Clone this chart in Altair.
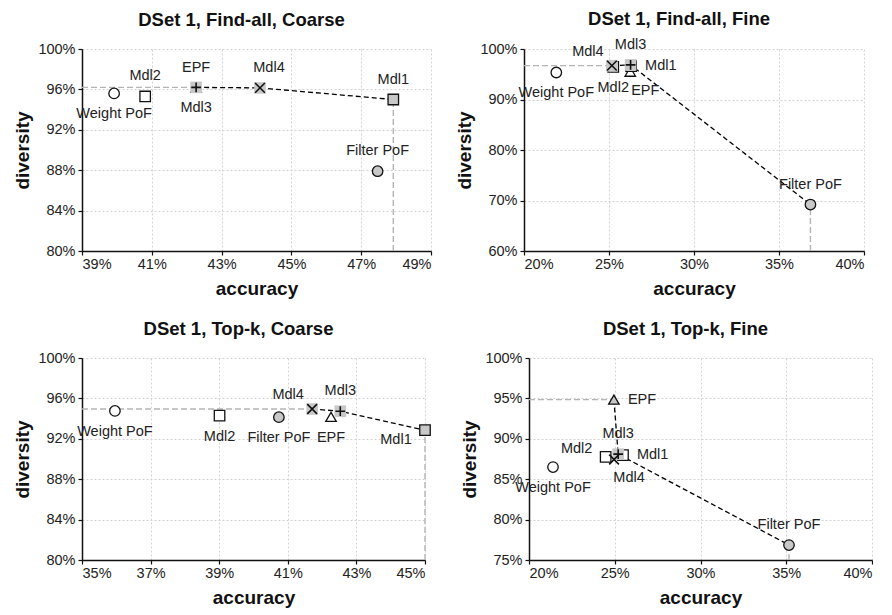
import altair as alt
import pandas as pd

METHODS = ["Weight PoF", "Filter PoF", "EPF", "Mdl1", "Mdl2", "Mdl3", "Mdl4"]

TITLES = [
    "DSet 1, Find-all, Coarse",
    "DSet 1, Find-all, Fine",
    "DSet 1, Top-k, Coarse",
    "DSet 1, Top-k, Fine",
]

# Panel 1: Find-all, Coarse
P1_ACC = [39.92, 47.47, 42.27, 47.92, 40.81, 42.27, 44.10]
P1_DIV = [95.60, 87.90, 96.15, 95.00, 95.30, 96.20, 96.15]
P1_FRONT = ["Mdl3", "Mdl4", "Mdl1"]
P1_LABEL = ["below", "above", "above", "above", "above", "below", "aboveright"]
P1_XTICKS = [39, 41, 43, 45, 47, 49]
P1_YTICKS = [80, 84, 88, 92, 96, 100]

# Panel 2: Find-all, Fine
P2_ACC = [21.90, 36.85, 26.25, 26.30, 25.25, 26.27, 25.17]
P2_DIV = [95.35, 69.20, 95.50, 96.60, 96.45, 96.85, 96.70]
P2_FRONT = ["Mdl4", "Mdl3", "Filter PoF"]
P2_LABEL = ["below", "above", "belowright", "right", "below", "above", "aboveleft"]
P2_XTICKS = [20, 25, 30, 35, 40]
P2_YTICKS = [60, 70, 80, 90, 100]

# Panel 3: Top-k, Coarse
P3_ACC = [35.96, 40.74, 42.26, 45.00, 39.01, 42.53, 41.71]
P3_DIV = [94.76, 94.14, 94.17, 92.85, 94.30, 94.73, 94.95]
P3_FRONT = ["Mdl4", "Mdl3", "Mdl1"]
P3_LABEL = ["below", "below", "below", "belowleft", "below", "above", "aboveleft"]
P3_XTICKS = [35, 37, 39, 41, 43, 45]
P3_YTICKS = [80, 84, 88, 92, 96, 100]

# Panel 4: Top-k, Fine
P4_ACC = [21.40, 35.16, 24.95, 25.48, 24.47, 25.20, 24.96]
P4_DIV = [86.50, 76.85, 94.85, 87.97, 87.77, 88.10, 87.44]
P4_FRONT = ["EPF", "Mdl3", "Filter PoF"]
P4_LABEL = ["below", "above", "right", "right", "upleft", "above", "belowright"]
P4_XTICKS = [20, 25, 30, 35, 40]
P4_YTICKS = [75, 80, 85, 90, 95, 100]

PLUS = "M-1,0H1M0,-1V1"
XMARK = "M-1,-1L1,1M-1,1L1,-1"
SHAPES = ["circle", "circle", "triangle-up", "square", "square", PLUS, XMARK]
STROKE_ONLY = ["Mdl3", "Mdl4"]

PLACEMENT = {
    "above": (0, -20, "center"),
    "below": (0, 21, "center"),
    "aboveright": (9, -20, "center"),
    "aboveleft": (-24, -14, "center"),
    "upleft": (-29, -8, "center"),
    "belowleft": (-29, 10, "center"),
    "belowright": (15, 19, "center"),
    "right": (14, 0, "left"),
}

FONT = "Liberation Sans"
H = 202


def panel(title, acc, div, front, labels, xt, yt, width, title_offset):
    df = pd.DataFrame({"method": METHODS, "acc": acc, "div": div, "lab": labels})
    df["tone"] = ["gray" if (m == "Filter PoF" or m in front) else "white" for m in METHODS]
    fr = df.set_index("method").loc[front].reset_index()
    fr["order"] = list(range(len(fr)))
    hl = fr[fr["method"].isin(STROKE_ONLY)]
    filled = df[~df["method"].isin(STROKE_ONLY)]
    stroked = df[df["method"].isin(STROKE_ONLY)]

    xs = alt.Scale(domain=[xt[0], xt[-1]], nice=False, zero=False)
    ys = alt.Scale(domain=[yt[0], yt[-1]], nice=False, zero=False)
    xax = alt.Axis(values=xt, labelExpr="datum.value + '%'", title="accuracy",
                   labelPadding=2, titlePadding=9)
    yax = alt.Axis(values=yt, labelExpr="datum.value + '%'", title="diversity",
                   labelPadding=3, titlePadding=5)

    def X(f="acc"):
        return alt.X(f"{f}:Q", scale=xs, axis=xax)

    def Y(f="div"):
        return alt.Y(f"{f}:Q", scale=ys, axis=yax)

    first = fr.iloc[0]
    last = fr.iloc[-1]
    hdf = pd.DataFrame({"a0": [xt[0]], "a1": [first["acc"]], "div": [first["div"]]})
    vdf = pd.DataFrame({"acc": [last["acc"]], "d0": [yt[0]], "div": [last["div"]]})

    shape = alt.Shape("method:N", scale=alt.Scale(domain=METHODS, range=SHAPES), legend=None)

    hrule = alt.Chart(hdf).mark_rule(color="#b5b5b5", strokeDash=[6, 3], strokeWidth=1.4).encode(
        x=X("a0"), x2="a1:Q", y=Y())
    vrule = alt.Chart(vdf).mark_rule(color="#b5b5b5", strokeDash=[6, 3], strokeWidth=1.4).encode(
        x=X(), y=Y("d0"), y2="div:Q")
    line = alt.Chart(fr).mark_line(color="black", strokeDash=[5, 3], strokeWidth=1.3).encode(
        x=X(), y=Y(), order="order:Q")
    pts = alt.Chart(filled).mark_point(filled=True, stroke="#111", strokeWidth=1.3, opacity=1,
                                       size=110).encode(
        x=X(), y=Y(), shape=shape,
        fill=alt.Fill("tone:N", scale=alt.Scale(domain=["gray", "white"], range=["#c8c8c8", "white"]),
                      legend=None))
    hlt = alt.Chart(hl).mark_square(color="#c8c8c8", size=135, opacity=1).encode(x=X(), y=Y())
    strk = alt.Chart(stroked).mark_point(filled=False, color="#111", strokeWidth=1.6, opacity=1,
                                         size=95).encode(x=X(), y=Y(), shape=shape)
    layers = [hrule, vrule, line, pts, hlt, strk]
    for code in sorted(set(labels)):
        dx, dy, align = PLACEMENT[code]
        sub = df[df["lab"] == code]
        layers.append(
            alt.Chart(sub).mark_text(dx=dx, dy=dy, align=align, baseline="middle", font=FONT,
                                     fontSize=14.5, color="#222").encode(x=X(), y=Y(), text="method:N"))
    return alt.layer(*layers).properties(
        width=width, height=H,
        title=alt.TitleParams(title, frame="group", dx=-15, offset=title_offset))


p1 = panel(TITLES[0], P1_ACC, P1_DIV, P1_FRONT, P1_LABEL, P1_XTICKS, P1_YTICKS, 349, 12)
p2 = panel(TITLES[1], P2_ACC, P2_DIV, P2_FRONT, P2_LABEL, P2_XTICKS, P2_YTICKS, 340, 8)
p3 = panel(TITLES[2], P3_ACC, P3_DIV, P3_FRONT, P3_LABEL, P3_XTICKS, P3_YTICKS, 343, 12)
p4 = panel(TITLES[3], P4_ACC, P4_DIV, P4_FRONT, P4_LABEL, P4_XTICKS, P4_YTICKS, 343, 12)

chart = alt.vconcat(
    alt.hconcat(p1, p2, spacing=23),
    alt.hconcat(p3, p4, spacing=27),
    spacing=20,
).properties(
    padding={"left": 5, "top": 2, "right": 0, "bottom": 0}
).configure_view(stroke=None).configure_axis(
    grid=True, gridColor="#d2d2d2", gridDash=[2, 2], gridWidth=1,
    domainColor="#111", domainWidth=1.5, tickColor="#111", tickSize=4, tickWidth=1.2,
    labelFont=FONT, labelFontSize=14.5, labelColor="#222",
    titleFont=FONT, titleFontSize=19, titleFontWeight="bold", titleColor="#111",
).configure_title(
    font=FONT, fontSize=18.5, fontWeight="bold", anchor="middle", color="#111"
)

chart.save("out.html", embed_options={"renderer": "svg", "actions": False})
